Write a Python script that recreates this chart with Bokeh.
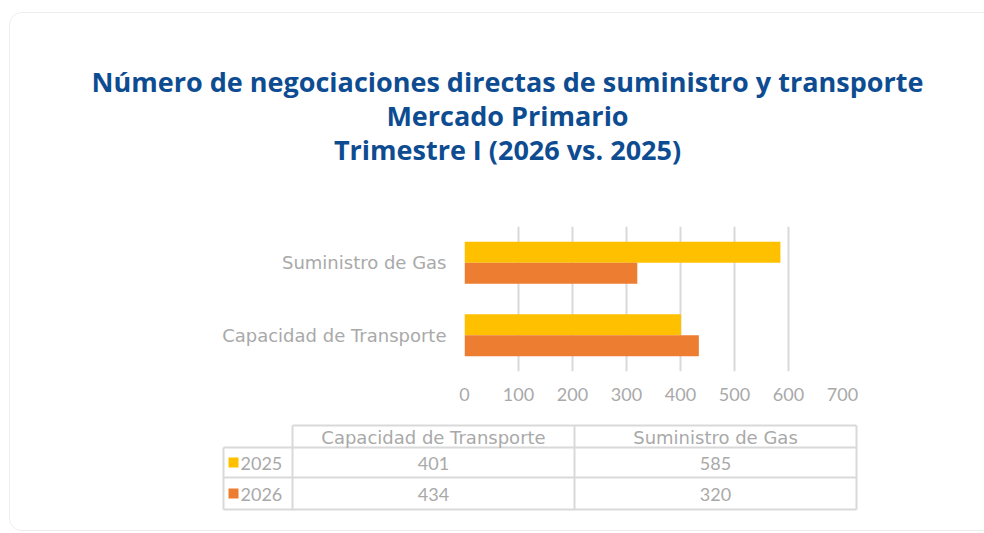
from bokeh.plotting import figure
from bokeh.models import Range1d, FactorRange, FixedTicker, ColumnDataSource
from bokeh.transform import dodge
from bokeh.layouts import column
from bokeh.embed import file_html
from bokeh.resources import INLINE
from bokeh.core.properties import value

# ---------------- data ----------------
title_lines = [
    "Número de negociaciones directas de suministro y transporte",
    "Mercado Primario",
    "Trimestre I (2026 vs. 2025)",
]
categories = ["Capacidad de Transporte", "Suministro de Gas"]
series_names = ["2025", "2026"]
values_2025 = [401, 585]
values_2026 = [434, 320]
x_ticks = [0, 100, 200, 300, 400, 500, 600, 700]

# ---------------- style ----------------
TITLE_BLUE = "#0E4C92"
YELLOW = "#FFC000"
ORANGE = "#ED7D31"
GRAY_TEXT = "#A9A9A9"
GRID = "#D9D9D9"
TITLE_FONT = "Open Sans"
WORD_FONT = "DejaVu Sans"
NUM_FONT = "Lato"
series_colors = [YELLOW, ORANGE]

W = 974
H_TITLE, H_BAR, H_TABLE = 195, 210, 112


def blank(fig):
    fig.outline_line_color = None
    fig.grid.visible = False
    fig.background_fill_color = "white"
    fig.border_fill_color = "white"
    fig.frame_align = False


# ---------------- title ----------------
t = figure(width=W, height=H_TITLE, x_range=Range1d(0, W), y_range=Range1d(H_TITLE, 0),
           x_axis_location=None, y_axis_location=None, min_border=0,
           output_backend="svg", toolbar_location=None)
blank(t)
t.text(x=[497] * len(title_lines), y=[68, 102, 136], text=title_lines,
       text_align="center", text_baseline="middle", text_font=value(TITLE_FONT),
       text_font_size="27px", text_font_style="bold", text_color=TITLE_BLUE)

# ---------------- bar chart ----------------
src = ColumnDataSource(dict(cat=categories, v2025=values_2025, v2026=values_2026))
p = figure(width=W, height=H_BAR, y_range=FactorRange(*categories),
           x_range=Range1d(x_ticks[0], x_ticks[-1]),
           output_backend="svg", toolbar_location=None)
blank(p)
p.min_border_left = 454
p.min_border_right = W - 832
p.min_border_top = 18
p.min_border_bottom = 47

bar_h = 0.29
p.hbar(y=dodge("cat", bar_h / 2, range=p.y_range), left=0, right="v2025", height=bar_h,
       source=src, fill_color=YELLOW, line_color=None)
p.hbar(y=dodge("cat", -bar_h / 2, range=p.y_range), left=0, right="v2026", height=bar_h,
       source=src, fill_color=ORANGE, line_color=None)

p.xgrid.visible = True
p.xgrid.ticker = FixedTicker(ticks=x_ticks)
p.xgrid.grid_line_color = GRID
p.xgrid.grid_line_width = 2
p.ygrid.visible = False
p.xgrid.level = "underlay"

p.xaxis.ticker = FixedTicker(ticks=x_ticks)
for ax in (p.xaxis[0], p.yaxis[0]):
    ax.axis_line_color = None
    ax.major_tick_line_color = None
    ax.minor_tick_line_color = None
    ax.major_label_text_color = GRAY_TEXT
p.xaxis.major_label_text_font = NUM_FONT
p.xaxis.major_label_text_font_size = "18px"
p.yaxis.major_label_text_font = WORD_FONT
p.yaxis.major_label_text_font_size = "18px"
p.xaxis.major_label_standoff = 10
p.yaxis.major_label_standoff = 12

# ---------------- data table ----------------
tb = figure(width=W, height=H_TABLE, x_range=Range1d(0, W), y_range=Range1d(H_TABLE, 0),
            x_axis_location=None, y_axis_location=None, min_border=0,
            output_backend="svg", toolbar_location=None)
blank(tb)
col_x = [213, 282, 564, 846]          # legend col left, col1 left, col2 left, right
row_y = [7, 29, 59, 91]               # header top, row1 top, row2 top, bottom
hx0 = [col_x[1], col_x[0], col_x[0], col_x[0]]
hx1 = [col_x[3]] * 4
tb.segment(x0=hx0, y0=row_y, x1=hx1, y1=row_y, line_color=GRID, line_width=2)
vy0 = [row_y[1], row_y[0], row_y[0], row_y[0]]
vy1 = [row_y[3]] * 4
tb.segment(x0=col_x, y0=vy0, x1=col_x, y1=vy1, line_color=GRID, line_width=2)

col_centers = [(col_x[i] + col_x[i + 1]) / 2 for i in (1, 2)]
row_centers = [(row_y[i] + row_y[i + 1]) / 2 for i in (1, 2)]
tb.text(x=col_centers, y=[(row_y[0] + row_y[1]) / 2 + 1] * 2, text=categories,
        text_align="center", text_baseline="middle", text_font=value(WORD_FONT),
        text_font_size="18px", text_color=GRAY_TEXT)
tb.rect(x=[col_x[0] + 10] * 2, y=row_centers, width=10, height=10,
        fill_color=series_colors, line_color=None)
tb.text(x=[col_x[0] + 17] * 2, y=[r + 1 for r in row_centers], text=series_names,
        text_align="left", text_baseline="middle", text_font=value(NUM_FONT),
        text_font_size="18px", text_color=GRAY_TEXT)
series_values = [values_2025, values_2026]
for r, vals in enumerate(series_values):
    tb.text(x=col_centers, y=[row_centers[r] + 1] * len(vals), text=[str(v) for v in vals],
            text_align="center", text_baseline="middle", text_font=value(NUM_FONT),
            text_font_size="18px", text_color=GRAY_TEXT)

layout = column(t, p, tb, margin=(13, 0, 0, 10),
                styles={"border-radius": "12px 0 0 12px", "overflow": "hidden",
                        "box-shadow": "-1px 0 0 0 #EEEEEE, 0 -1px 0 0 #EEEEEE, 0 1px 0 0 #EEEEEE"})

open("out.html", "w").write(file_html(layout, INLINE))
